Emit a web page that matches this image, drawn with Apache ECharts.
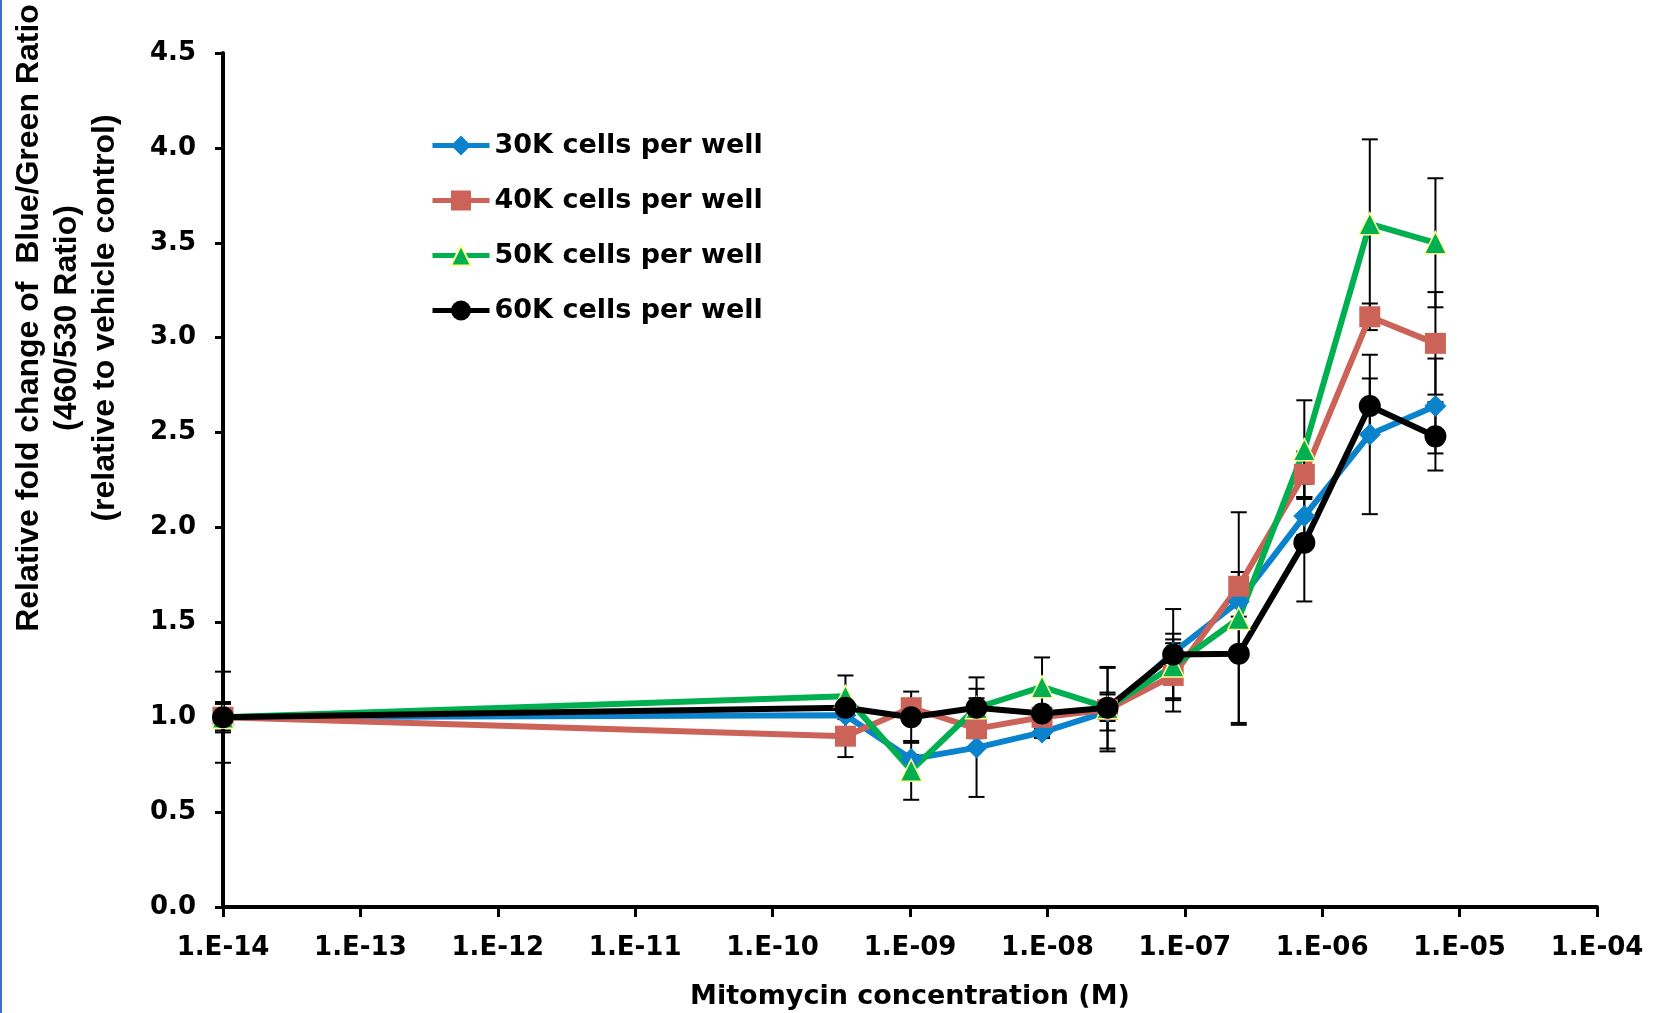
<!DOCTYPE html>
<html>
<head>
<meta charset="utf-8">
<title>Mitomycin dose response</title>
<script src="https://cdn.jsdelivr.net/npm/echarts@6/dist/echarts.min.js"></script>
<style>
  html, body { margin: 0; padding: 0; background: #fff; }
  #chart { width: 1655px; height: 1013px; }
</style>
</head>
<body>
<div id="chart"></div>
<script>
// Mitomycin concentration (M); first point is the vehicle control drawn at 1E-14
const conc = [1e-14, 3.39e-10, 1.02e-9, 3.05e-9, 9.14e-9, 2.74e-8, 8.23e-8, 2.47e-7, 7.41e-7, 2.22e-6, 6.67e-6];

const names = ["30K cells per well", "40K cells per well", "50K cells per well", "60K cells per well"];

// relative fold change
const cells30 = [1.00, 1.01, 0.78, 0.84, 0.92, 1.03, 1.34, 1.61, 2.06, 2.49, 2.64];
const cells40 = [1.00, 0.90, 1.05, 0.94, 1.00, 1.04, 1.22, 1.69, 2.28, 3.11, 2.97];
const cells50 = [1.00, 1.11, 0.72, 1.05, 1.16, 1.05, 1.27, 1.52, 2.41, 3.60, 3.50];
const cells60 = [1.00, 1.05, 1.00, 1.05, 1.02, 1.05, 1.33, 1.335, 1.92, 2.64, 2.48];

// +/- error (symmetric)
const err30 = [0.07, 0.02, 0.02, 0.26, 0.02, 0.10, 0.05, 0.08, 0.10, 0.42, 0.25];
const err40 = [0.08, 0.11, 0.03, 0.05, 0.11, 0.22, 0.19, 0.075, 0.12, 0.07, 0.27];
const err50 = [0.24, 0.11, 0.155, 0.10, 0.155, 0.07, 0.17, 0.56, 0.26, 0.445, 0.34];
const err60 = [0.00, 0.03, 0.135, 0.16, 0.02, 0.215, 0.24, 0.365, 0.31, 0.145, 0.18];

const yTicks = { min: 0, max: 4.5, step: 0.5 };

const chart = echarts.init(document.getElementById("chart"), null, { renderer: "canvas" });

const colors = {
  c30: "#0A82CC",
  c40: "#CC6358",
  c50: "#00B050",
  c60: "#000000",
  triBorder: "#FFFF99",
  text: "#000000",
};

const font = "DejaVu Sans";

function pairs(vals) {
  return conc.map((c, i) => [c, vals[i]]);
}

function errData(vals, errs) {
  return conc
    .map((c, i) => [c, vals[i] - errs[i], vals[i] + errs[i], errs[i]])
    .filter((d) => d[3] > 0);
}

function renderErr(params, api) {
  const x = api.value(0);
  const top = api.coord([x, api.value(2)]);
  const bot = api.coord([x, api.value(1)]);
  const w = 8;
  const st = { stroke: "#000", lineWidth: 2 };
  return {
    type: "group",
    children: [
      { type: "line", shape: { x1: top[0], y1: top[1], x2: bot[0], y2: bot[1] }, style: st },
      { type: "line", shape: { x1: top[0] - w, y1: top[1], x2: top[0] + w, y2: top[1] }, style: st },
      { type: "line", shape: { x1: bot[0] - w, y1: bot[1], x2: bot[0] + w, y2: bot[1] }, style: st },
    ],
  };
}

function errSeries(vals, errs) {
  return {
    type: "custom",
    renderItem: renderErr,
    encode: { x: 0, y: [1, 2] },
    data: errData(vals, errs),
    z: 2,
    silent: true,
  };
}

function lineSeries(name, vals, color, symbol, size, extraItem) {
  return {
    name: name,
    type: "line",
    data: pairs(vals),
    symbol: symbol,
    symbolSize: size,
    showAllSymbol: true,
    z: 2,
    lineStyle: { color: color, width: 6 },
    itemStyle: Object.assign({ color: color }, extraItem || {}),
  };
}

function expLabel(v) {
  const e = Math.round(Math.log10(v));
  return "1.E" + (e < 0 ? "-" : "+") + String(Math.abs(e)).padStart(2, "0");
}

const options = {
  animation: false,
  backgroundColor: "#fff",
  grid: { left: 223, right: 58, top: 53, bottom: 106, containLabel: false, outerBoundsMode: "none" },
  legend: {
    orient: "vertical",
    left: 425,
    top: 127,
    itemWidth: 57,
    itemHeight: 25,
    itemGap: 28,
    selectedMode: false,
    data: names,
    lineStyle: { width: 5 },
    textStyle: { fontFamily: font, fontWeight: "bold", fontSize: 27, color: colors.text, lineHeight: 27 },
  },
  xAxis: {
    type: "log",
    logBase: 10,
    min: 1e-14,
    max: 1e-4,
    interval: 1,
    splitNumber: 10,
    name: "Mitomycin concentration (M)",
    nameLocation: "middle",
    nameGap: 76,
    nameTextStyle: { fontFamily: font, fontWeight: "bold", fontSize: 27, color: colors.text },
    axisLine: { show: true, onZero: false, lineStyle: { color: "#000", width: 4 } },
    axisTick: { show: true, inside: false, length: 10, interval: 0, lineStyle: { color: "#000", width: 3 } },
    minorTick: { show: false },
    splitLine: { show: false },
    axisLabel: {
      margin: 28,
      interval: 0,
      showMinLabel: true,
      showMaxLabel: true,
      formatter: expLabel,
      fontFamily: font,
      fontWeight: "bold",
      fontSize: 26,
      color: colors.text,
    },
  },
  yAxis: {
    type: "value",
    min: yTicks.min,
    max: yTicks.max,
    interval: yTicks.step,
    axisLine: { show: true, onZero: false, lineStyle: { color: "#000", width: 4 } },
    axisTick: { show: true, inside: false, length: 8, lineStyle: { color: "#000", width: 3 } },
    splitLine: { show: false },
    axisLabel: {
      margin: 27,
      formatter: (v) => v.toFixed(1),
      fontFamily: font,
      fontWeight: "bold",
      fontSize: 26,
      color: colors.text,
    },
  },
  graphic: [
    { type: "rect", left: 0, top: 0, shape: { width: 2, height: 1013 }, style: { fill: "#3A6FC4" }, silent: true },
    {
      type: "text",
      x: 67,
      y: 318,
      rotation: Math.PI / 2,
      silent: true,
      style: {
        text: "Relative fold change of  Blue/Green Ratio\n(460/530 Ratio)\n(relative to vehicle control)",
        fontFamily: "Liberation Sans",
        fontWeight: "bold",
        fontSize: 32,
        lineHeight: 38,
        fill: colors.text,
        align: "center",
        verticalAlign: "middle",
      },
    },
  ],
  series: [
    errSeries(cells30, err30),
    errSeries(cells40, err40),
    errSeries(cells50, err50),
    errSeries(cells60, err60),
    lineSeries(names[0], cells30, colors.c30, "diamond", 22),
    lineSeries(names[1], cells40, colors.c40, "rect", 21),
    lineSeries(names[2], cells50, colors.c50, "triangle", 22, { borderColor: colors.triBorder, borderWidth: 1.5 }),
    lineSeries(names[3], cells60, colors.c60, "circle", 22),
  ],
};

chart.setOption(options);
</script>
</body>
</html>
